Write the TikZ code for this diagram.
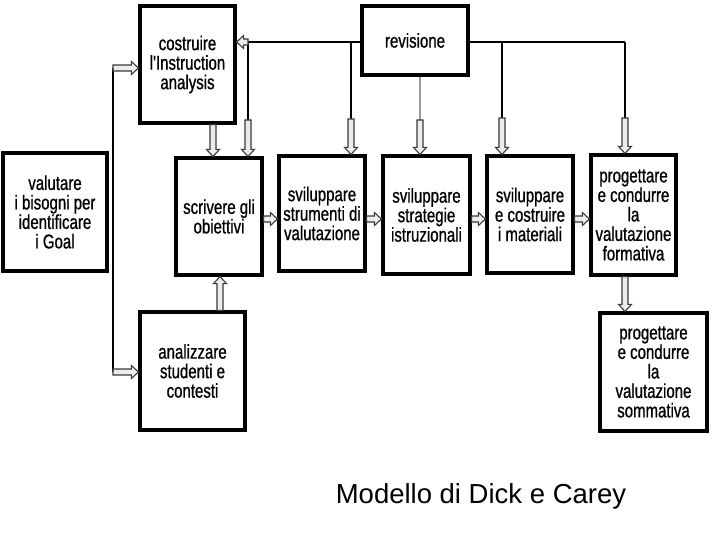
\documentclass[tikz,border=0pt]{standalone}
\usepackage{fontspec}
\setmainfont{Liberation Sans}
\newfontfamily\boxfont{Liberation Sans}[FakeStretch=0.75,FakeBold=0.8]
\usetikzlibrary{calc}
\tikzset{
  box/.style={draw=black, line width=3.2pt, fill=white, align=center, inner sep=0pt,
    font=\boxfont\fontsize{20}{19.5}\selectfont},
  bus/.style={draw=black, line width=2.8pt},
  graybus/.style={draw=gray!80, line width=1.8pt},
  feed/.style={draw=black, line width=2.4pt},
  hollow/.style={draw=gray!45!black, line width=1.1pt, fill=gray!15, line join=miter},
}
\newcommand\harrow[2]{%
  \coordinate (tmpH) at ($(#2)!7pt!(#1)$);
  \draw[hollow] ($(#1)!3pt!90:(#2)$) -- ($(tmpH)!3pt!90:(#2)$) -- ($(tmpH)!6.5pt!90:(#2)$)
    -- (#2) -- ($(tmpH)!6.5pt!-90:(#2)$) -- ($(tmpH)!3pt!-90:(#2)$) -- ($(#1)!3pt!-90:(#2)$) -- cycle;}
\begin{document}
\begin{tikzpicture}[x=1pt,y=-1pt]
\useasboundingbox (0,0) rectangle (720,540);
% boxes
\node[box, minimum width=95pt, minimum height=117pt] (costr) at (187.5,64.5) {costruire\\l'Instruction\\analysis};
\node[box, minimum width=106pt, minimum height=69pt] (rev) at (415,40.5) {revisione};
\node[box, minimum width=104pt, minimum height=118pt] (valut) at (55,212) {valutare\\i bisogni per\\identificare\\i Goal};
\node[box, minimum width=86pt, minimum height=117pt] (scriv) at (219,216.5) {scrivere gli\\obiettivi};
\node[box, minimum width=86pt, minimum height=115pt] (strum) at (322,213.5) {sviluppare\\strumenti di\\valutazione};
\node[box, minimum width=87pt, minimum height=118pt] (strat) at (426.5,215) {sviluppare\\strategie\\istruzionali};
\node[box, minimum width=86pt, minimum height=117pt] (mater) at (530,214.5) {sviluppare\\e costruire\\i materiali};
\node[box, minimum width=85pt, minimum height=120pt] (form) at (633.5,215) {progettare\\e condurre\\la\\valutazione\\formativa};
\node[box, minimum width=107pt, minimum height=118pt] (somm) at (653.5,372) {progettare\\e condurre\\la\\valutazione\\sommativa};
\node[box, minimum width=105pt, minimum height=118pt] (anal) at (192.5,371) {analizzare\\studenti e\\contesti};
% bus coordinates
\coordinate (b1) at (248,42);
\coordinate (b2) at (351,42);
\coordinate (b3) at (502,42);
\coordinate (b4) at (625,42);
\coordinate (d1) at (248,120);
\coordinate (d2) at (351,119);
\coordinate (d3) at (502,118);
\coordinate (d4) at (625,118);
\coordinate (dr) at (420,120);
\draw[bus] (b1) -- (rev.west |- b1);
\draw[bus] (rev.east |- b4) -- (b4);
\draw[bus] (b1) -- (d1);
\draw[bus] (b2) -- (d2);
\draw[bus] (b3) -- (d3);
\draw[bus] (b4) -- (d4);
\draw[graybus] (rev.south -| dr) -- (dr);
\harrow{b1}{costr.east |- b1}
\harrow{d1}{d1 |- scriv.north}
\harrow{d2}{d2 |- strum.north}
\harrow{dr}{dr |- strat.north}
\harrow{d3}{d3 |- mater.north}
\harrow{d4}{d4 |- form.north}
% costruire -> scrivere
\coordinate (c1) at (213,0);
\harrow{c1 |- costr.south}{c1 |- scriv.north}
% analizzare -> scrivere
\coordinate (c2) at (220,0);
\harrow{c2 |- anal.north}{c2 |- scriv.south}
% left feed line
\coordinate (l1) at (113,68);
\coordinate (l2) at (113,372);
\draw[feed] (l1) -- (l2);
\harrow{l1}{costr.west |- l1}
\harrow{l2}{anal.west |- l2}
% horizontal chain
\coordinate (h) at (0,219);
\harrow{scriv.east |- h}{strum.west |- h}
\harrow{strum.east |- h}{strat.west |- h}
\harrow{strat.east |- h}{mater.west |- h}
\harrow{mater.east |- h}{form.west |- h}
% formativa -> sommativa
\coordinate (c3) at (625,0);
\harrow{c3 |- form.south}{c3 |- somm.north}
% caption
\node[font=\fontsize{27.5}{30}\selectfont, anchor=base] (cap) at (481,503) {Modello di Dick e Carey};
\end{tikzpicture}
\end{document}
